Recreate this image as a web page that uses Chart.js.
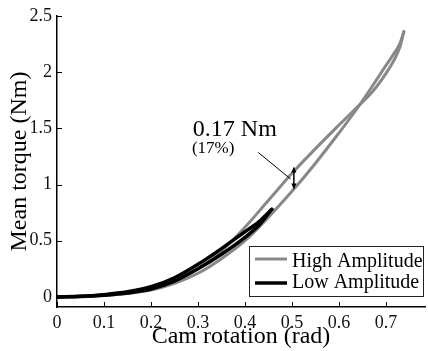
<!DOCTYPE html>
<html>
<head>
<meta charset="utf-8">
<script src="https://cdn.jsdelivr.net/npm/chart.js@4.4.0/dist/chart.umd.min.js"></script>
<style>
    html, body { margin: 0; padding: 0; background: #fff; }
    #wrap { width: 428px; height: 351px; }
</style>
</head>
<body>
<div id="wrap"><canvas id="torqueChart" width="428" height="351"></canvas></div>
<script>
// Values (cam rotation in rad, mean torque in Nm)
const highX      = [0, 0.05, 0.1, 0.15, 0.2, 0.25, 0.3, 0.35, 0.4, 0.45, 0.5, 0.55, 0.6, 0.634, 0.67, 0.70, 0.72, 0.73, 0.738];
const highLoad   = [0, 0.005, 0.02, 0.04, 0.08, 0.15, 0.25, 0.41, 0.62, 0.86, 1.10, 1.32, 1.53, 1.67, 1.82, 1.99, 2.13, 2.23, 2.36];
const highUnload = [0, 0.003, 0.012, 0.03, 0.06, 0.12, 0.21, 0.34, 0.50, 0.71, 0.94, 1.19, 1.46, 1.65, 1.87, 2.06, 2.185, 2.26, 2.36];

const lowX      = [0, 0.05, 0.1, 0.15, 0.2, 0.25, 0.3, 0.35, 0.4, 0.43, 0.457];
const lowLoad   = [0, 0.005, 0.02, 0.045, 0.09, 0.17, 0.29, 0.43, 0.58, 0.67, 0.78];
const lowUnload = [0, 0.003, 0.015, 0.035, 0.07, 0.14, 0.25, 0.38, 0.53, 0.64, 0.78];

const xTicks = [0, 0.1, 0.2, 0.3, 0.4, 0.5, 0.6, 0.7];
const yTicks = [0, 0.5, 1, 1.5, 2, 2.5];
const seriesNames = ['High Amplitude', 'Low Amplitude'];

// hysteresis gap annotation
const gapText = '0.17 Nm';
const gapPct = '(17%)';
const gapX = 0.504;
const gapLow = 0.955;
const gapHigh = 1.16;

const SERIF = '"Liberation Serif", "Times New Roman", serif';
const GREY = '#888888';
const BLACK = '#000000';

function pts(xs, ys) {
    return xs.map((x, i) => ({ x: x, y: ys[i] }));
}

// tick marks pointing into the plot, like the original figure
const innerTicks = {
    id: 'innerTicks',
    afterDraw(chart) {
        const { ctx, chartArea: a, scales: { x, y } } = chart;
        ctx.save();
        ctx.strokeStyle = '#000';
        ctx.lineWidth = 1;
        xTicks.forEach(v => {
            const px = Math.round(x.getPixelForValue(v)) + 0.5;
            ctx.beginPath();
            ctx.moveTo(px, a.bottom);
            ctx.lineTo(px, a.bottom - 5);
            ctx.stroke();
        });
        yTicks.forEach(v => {
            const py = Math.round(y.getPixelForValue(v)) + 0.5;
            ctx.beginPath();
            ctx.moveTo(a.left, py);
            ctx.lineTo(a.left + 5, py);
            ctx.stroke();
        });
        ctx.restore();
    }
};

// "0.17 Nm (17%)" label with leader and double arrow
const gapNote = {
    id: 'gapNote',
    afterDatasetsDraw(chart) {
        const { ctx, scales: { x, y } } = chart;
        const ax = x.getPixelForValue(gapX);
        const yTop = y.getPixelForValue(gapHigh);
        const yBot = y.getPixelForValue(gapLow);
        ctx.save();
        ctx.fillStyle = '#000';
        ctx.strokeStyle = '#000';

        ctx.textBaseline = 'alphabetic';
        ctx.textAlign = 'left';
        ctx.font = '24px ' + SERIF;
        ctx.fillText(gapText, x.getPixelForValue(0.289), y.getPixelForValue(1.43));
        ctx.font = '17px ' + SERIF;
        ctx.fillText(gapPct, x.getPixelForValue(0.287), y.getPixelForValue(1.28));

        // leader
        ctx.lineWidth = 1;
        ctx.beginPath();
        ctx.moveTo(x.getPixelForValue(0.428), y.getPixelForValue(1.286));
        ctx.lineTo(x.getPixelForValue(0.497), y.getPixelForValue(1.05));
        ctx.stroke();

        // double arrow
        const head = 6, half = 2.5;
        ctx.lineWidth = 1.5;
        ctx.beginPath();
        ctx.moveTo(ax, yTop + head - 1);
        ctx.lineTo(ax, yBot - head + 1);
        ctx.stroke();
        ctx.beginPath();
        ctx.moveTo(ax, yTop);
        ctx.lineTo(ax - half, yTop + head);
        ctx.lineTo(ax + half, yTop + head);
        ctx.closePath();
        ctx.fill();
        ctx.beginPath();
        ctx.moveTo(ax, yBot);
        ctx.lineTo(ax - half, yBot - head);
        ctx.lineTo(ax + half, yBot - head);
        ctx.closePath();
        ctx.fill();
        ctx.restore();
    }
};

// boxed legend in the lower right corner of the axes
const boxLegend = {
    id: 'boxLegend',
    afterDatasetsDraw(chart) {
        const { ctx, chartArea: a } = chart;
        const bx = a.right - 176, by = a.bottom - 61, bw = 174, bh = 50;
        ctx.save();
        ctx.fillStyle = '#fff';
        ctx.fillRect(bx, by, bw, bh);
        ctx.strokeStyle = '#222';
        ctx.lineWidth = 1;
        ctx.strokeRect(bx + 0.5, by + 0.5, bw, bh);
        const colors = [GREY, BLACK];
        const widths = [3, 3.5];
        ctx.font = '20px ' + SERIF;
        ctx.textBaseline = 'alphabetic';
        ctx.fillStyle = '#000';
        seriesNames.forEach((name, i) => {
            const ly = by + 13 + i * 24;
            ctx.strokeStyle = colors[i];
            ctx.lineWidth = widths[i];
            ctx.beginPath();
            ctx.moveTo(bx + 6, ly);
            ctx.lineTo(bx + 38, ly);
            ctx.stroke();
            ctx.fillText(name, bx + 43, by + 21 + i * 21);
        });
        ctx.restore();
    }
};

const ctx = document.getElementById('torqueChart').getContext('2d');
new Chart(ctx, {
    type: 'line',
    data: {
        datasets: [
            { label: seriesNames[0], data: pts(highX, highLoad), borderColor: GREY, borderWidth: 3, order: 2 },
            { label: seriesNames[0], data: pts(highX, highUnload), borderColor: GREY, borderWidth: 3, order: 2 },
            { label: seriesNames[1], data: pts(lowX, lowLoad), borderColor: BLACK, borderWidth: 3.5, order: 1 },
            { label: seriesNames[1], data: pts(lowX, lowUnload), borderColor: BLACK, borderWidth: 3.5, order: 1 }
        ]
    },
    options: {
        responsive: false,
        animation: false,
        devicePixelRatio: 1,
        elements: {
            point: { radius: 0 },
            line: { tension: 0, cubicInterpolationMode: 'monotone', fill: false, borderCapStyle: 'round' }
        },
        layout: { padding: { top: 16, right: 3, left: 0, bottom: 0 } },
        plugins: {
            legend: { display: false },
            tooltip: { enabled: false }
        },
        scales: {
            x: {
                type: 'linear',
                min: 0,
                max: 0.783,
                afterBuildTicks: s => { s.ticks = xTicks.map(v => ({ value: v })); },
                afterFit: s => { s.height = 44; },
                grid: { display: true, drawOnChartArea: false, drawTicks: false },
                border: { display: true, color: '#000', width: 1.5 },
                ticks: {
                    padding: 5,
                    color: '#111',
                    font: { family: SERIF, size: 18 },
                    maxRotation: 0,
                    callback: v => String(v)
                },
                title: {
                    display: true,
                    text: 'Cam rotation (rad)',
                    color: '#000',
                    font: { family: SERIF, size: 24, lineHeight: 1.2 },
                    padding: { top: 0, bottom: 0 }
                }
            },
            y: {
                type: 'linear',
                min: -0.09,
                max: 2.5,
                afterBuildTicks: s => { s.ticks = yTicks.map(v => ({ value: v })); },
                afterFit: s => { s.width = 57; },
                grid: { display: true, drawOnChartArea: false, drawTicks: false },
                border: { display: true, color: '#000', width: 1.5 },
                ticks: {
                    padding: 5,
                    color: '#111',
                    font: { family: SERIF, size: 18 },
                    callback: v => String(v)
                },
                title: {
                    display: true,
                    text: 'Mean torque (Nm)',
                    color: '#000',
                    font: { family: SERIF, size: 24, lineHeight: 1.2 },
                    padding: { top: 5, bottom: 0 }
                }
            }
        }
    },
    plugins: [innerTicks, gapNote, boxLegend]
});
</script>
</body>
</html>
